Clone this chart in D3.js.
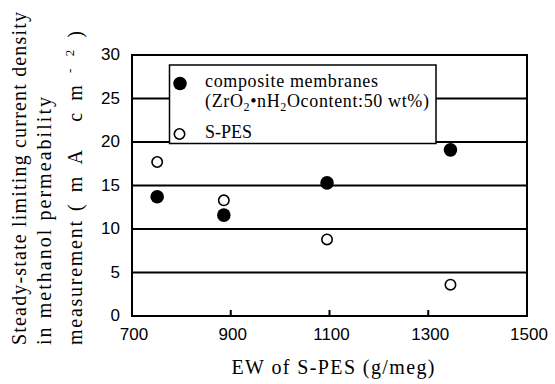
<!DOCTYPE html>
<html>
<head>
<meta charset="utf-8">
<script src="https://cdn.jsdelivr.net/npm/d3@7"></script>
<style>
  body { margin: 0; background: #fff; }
  .tick-label { font-family: "Liberation Sans", Arial, sans-serif; font-size: 17px; fill: #000; }
  .serif { font-family: "Liberation Serif", "Times New Roman", serif; font-size: 18px; fill: #000; }
</style>
</head>
<body>
<div id="chart"></div>
<script>
// data
var ewValues = [751, 886, 1095, 1345];
var compositeValues = [13.7, 11.6, 15.3, 19.1];
var spesValues = [17.7, 13.3, 8.8, 3.6];
var xTicks = [700, 900, 1100, 1300, 1500];
var yTicks = [0, 5, 10, 15, 20, 25, 30];

var margin = {top: 55, right: 28, bottom: 68, left: 132},
    width = 555 - margin.left - margin.right,
    height = 384 - margin.top - margin.bottom;

var root = d3.select("#chart")
  .append("svg")
    .attr("width", 555)
    .attr("height", 384);

var svg = root.append("g")
    .attr("transform", "translate(" + margin.left + "," + margin.top + ")");

var x = d3.scaleLinear().domain([700, 1500]).range([0, width]);
var y = d3.scaleLinear().domain([0, 30]).range([height, 0]);

// horizontal grid lines
svg.selectAll(".grid")
  .data(yTicks.filter(function(d) { return d > 0 && d < 30; }))
  .enter().append("line")
    .attr("x1", 0).attr("x2", width)
    .attr("y1", function(d) { return y(d); })
    .attr("y2", function(d) { return y(d); })
    .attr("stroke", "#000")
    .attr("stroke-width", 2);

// frame
svg.append("rect")
  .attr("width", width)
  .attr("height", height)
  .attr("fill", "none")
  .attr("stroke", "#000")
  .attr("stroke-width", 2);

// inner x ticks
svg.selectAll(".xtick")
  .data(xTicks.slice(1, -1))
  .enter().append("line")
    .attr("x1", function(d) { return x(d); })
    .attr("x2", function(d) { return x(d); })
    .attr("y1", height).attr("y2", height - 6)
    .attr("stroke", "#000")
    .attr("stroke-width", 2);

// tick labels
svg.selectAll(".xlab")
  .data(xTicks)
  .enter().append("text")
    .attr("class", "tick-label")
    .attr("x", function(d) { return x(d) + 2; })
    .attr("y", height + 24)
    .attr("text-anchor", "middle")
    .text(function(d) { return d; });

svg.selectAll(".ylab")
  .data(yTicks)
  .enter().append("text")
    .attr("class", "tick-label")
    .attr("x", -12)
    .attr("y", function(d) { return y(d); })
    .attr("dy", "0.3em")
    .attr("text-anchor", "end")
    .text(function(d) { return d; });

// points
svg.selectAll(".spes")
  .data(ewValues)
  .enter().append("circle")
    .attr("cx", function(d) { return x(d); })
    .attr("cy", function(d, i) { return y(spesValues[i]); })
    .attr("r", 5.2)
    .attr("fill", "#fff")
    .attr("stroke", "#000")
    .attr("stroke-width", 1.6);

svg.selectAll(".comp")
  .data(ewValues)
  .enter().append("circle")
    .attr("cx", function(d) { return x(d); })
    .attr("cy", function(d, i) { return y(compositeValues[i]); })
    .attr("r", 6.8)
    .attr("fill", "#000");

// legend
var leg = root.append("g");
leg.append("rect")
  .attr("x", 169.5).attr("y", 65)
  .attr("width", 266.5).attr("height", 78.5)
  .attr("fill", "#fff")
  .attr("stroke", "#000")
  .attr("stroke-width", 1.5);
leg.append("circle").attr("cx", 180).attr("cy", 83.5).attr("r", 6.8).attr("fill", "#000");
leg.append("circle").attr("cx", 179.5).attr("cy", 134).attr("r", 5.2)
  .attr("fill", "#fff").attr("stroke", "#000").attr("stroke-width", 1.6);

leg.append("text").attr("class", "serif")
  .attr("x", 205).attr("y", 87)
  .attr("textLength", 173).attr("lengthAdjust", "spacing")
  .text("composite membranes");

var l2 = leg.append("text").attr("class", "serif")
  .attr("x", 205).attr("y", 107)
  .attr("textLength", 224).attr("lengthAdjust", "spacing");
l2.append("tspan").text("(ZrO");
l2.append("tspan").attr("dy", 4).style("font-size", "12px").text("2");
l2.append("tspan").attr("dy", -4).text("\u2022nH");
l2.append("tspan").attr("dy", 4).style("font-size", "12px").text("2");
l2.append("tspan").attr("dy", -4).text("Ocontent:50 wt%)");

leg.append("text").attr("class", "serif")
  .attr("x", 205).attr("y", 138)
  .text("S-PES");

// axis titles
root.append("text").attr("class", "serif")
  .attr("x", 333).attr("y", 374)
  .attr("text-anchor", "middle")
  .style("font-size", "20px")
  .attr("textLength", 203).attr("lengthAdjust", "spacing")
  .text("EW of S-PES (g/meg)");

var yTitle = root.append("g").attr("transform", "translate(0,345) rotate(-90)");
yTitle.append("text").attr("class", "serif")
  .attr("x", 0).attr("y", 26)
  .style("font-size", "20px")
  .attr("textLength", 333).attr("lengthAdjust", "spacing")
  .text("Steady-state limiting current density");
yTitle.append("text").attr("class", "serif")
  .attr("x", 0).attr("y", 51)
  .style("font-size", "20px")
  .attr("textLength", 248).attr("lengthAdjust", "spacing")
  .text("in methanol permeability");
yTitle.append("text").attr("class", "serif")
  .attr("x", 0).attr("y", 82)
  .style("font-size", "20px")
  .attr("textLength", 124).attr("lengthAdjust", "spacing")
  .text("measurement");
var t3 = yTitle.append("text").attr("class", "serif")
  .attr("x", 134).attr("y", 82)
  .style("font-size", "20px")
  .attr("textLength", 180).attr("lengthAdjust", "spacing");
t3.append("tspan").text("(mA cm");
t3.append("tspan").attr("dy", -8).style("font-size", "13px").text("-2");
t3.append("tspan").attr("dy", 8).text(")");
</script>
</body>
</html>
